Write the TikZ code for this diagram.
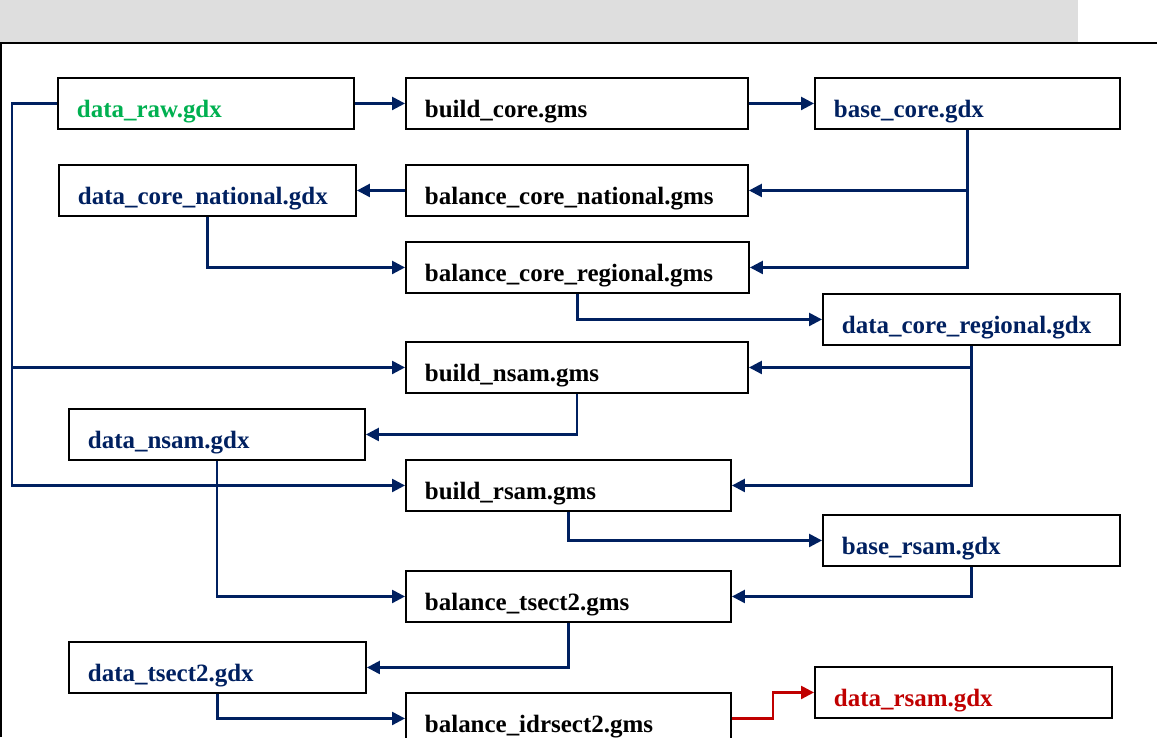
\documentclass[tikz,border=0pt]{standalone}
\usepackage{fontspec}
\setmainfont{Liberation Serif}
\usetikzlibrary{arrows.meta,positioning,calc}
\definecolor{flowNavy}{RGB}{0,32,96}
\definecolor{flowGreen}{RGB}{0,176,80}
\definecolor{flowRed}{RGB}{192,0,0}
\definecolor{bandGray}{RGB}{222,222,222}

\begin{document}
\begin{tikzpicture}[
        filebox/.style={draw,line width=1.1pt,anchor=north west,inner xsep=0.38cm,inner ysep=0pt,
          text height=0.8cm,text depth=0.22cm,align=left,font=\fontsize{14.2}{16}\selectfont\bfseries},
        gdx/.style={filebox,text=flowNavy},
        arrow/.style={-{Triangle[length=0.26cm,width=0.26cm]},line width=1.4pt,draw=flowNavy}
      ]
        \useasboundingbox (0,0) rectangle (23.14,-14.74);
        \fill[bandGray] (0,0) rectangle (21.56,-0.86);
        \draw[line width=1.2pt] (0.02,-14.74) -- (0.02,-0.86) -- (23.14,-0.86);

        \node[filebox,text=flowGreen,text width=5.16cm] (raw) at (1.14,-1.54) {data\_raw.gdx};
        \node[filebox,text width=6.08cm] (buildcore) at (8.10,-1.54) {build\_core.gms};
        \node[gdx,text width=5.34cm] (basecore) at (16.28,-1.54) {base\_core.gdx};
        \node[gdx,text width=5.18cm] (natl) at (1.16,-3.28) {data\_core\_national.gdx};
        \node[filebox,text width=6.08cm] (balnatl) at (8.10,-3.28) {balance\_core\_national.gms};
        \node[filebox,text width=6.10cm] (balreg) at (8.10,-4.82) {balance\_core\_regional.gms};
        \node[gdx,text width=5.18cm] (reg) at (16.44,-5.86) {data\_core\_regional.gdx};
        \node[filebox,text width=6.08cm] (buildnsam) at (8.10,-6.82) {build\_nsam.gms};
        \node[gdx,text width=5.16cm] (nsam) at (1.36,-8.16) {data\_nsam.gdx};
        \node[filebox,text width=5.74cm] (buildrsam) at (8.10,-9.18) {build\_rsam.gms};
        \node[gdx,text width=5.18cm] (basersam) at (16.44,-10.28) {base\_rsam.gdx};
        \node[filebox,text width=5.74cm] (baltsect) at (8.10,-11.40) {balance\_tsect2.gms};
        \node[gdx,text width=5.18cm] (tsect) at (1.36,-12.82) {data\_tsect2.gdx};
        \node[filebox,text width=5.74cm] (balidr) at (8.10,-13.84) {balance\_idrsect2.gms};
        \node[filebox,text=flowRed,text width=5.18cm] (rsam) at (16.28,-13.32) {data\_rsam.gdx};

        \coordinate (spine) at (0.24,0);
        \draw[arrow] (raw.east) -- (buildcore.west);
        \draw[arrow] (buildcore.east) -- (basecore.west);
        \draw[arrow] (raw.west) -| (spine |- buildrsam.west) -- (buildrsam.west);
        \draw[arrow] (spine |- buildnsam.west) -- (buildnsam.west);
        \draw[arrow] (basecore.south) |- (balnatl.east);
        \draw[arrow] (basecore.south) |- (balreg.east);
        \draw[arrow] (balnatl.west) -- (natl.east);
        \draw[arrow] (natl.south) |- (balreg.west);
        \draw[arrow] (balreg.south) |- (reg.west);
        \draw[arrow] (reg.south) |- (buildnsam.east);
        \draw[arrow] (reg.south) |- (buildrsam.east);
        \draw[arrow] (buildnsam.south) |- (nsam.east);
        \draw[arrow] (nsam.south) |- (baltsect.west);
        \draw[arrow] (buildrsam.south) |- (basersam.west);
        \draw[arrow] (basersam.south) |- (baltsect.east);
        \draw[arrow] (baltsect.south) |- (tsect.east);
        \draw[arrow] (tsect.south) |- (balidr.west);
        \draw[arrow,draw=flowRed] (balidr.east) -- ++(0.82,0) |- (rsam.west);
      \end{tikzpicture}
\end{document}
